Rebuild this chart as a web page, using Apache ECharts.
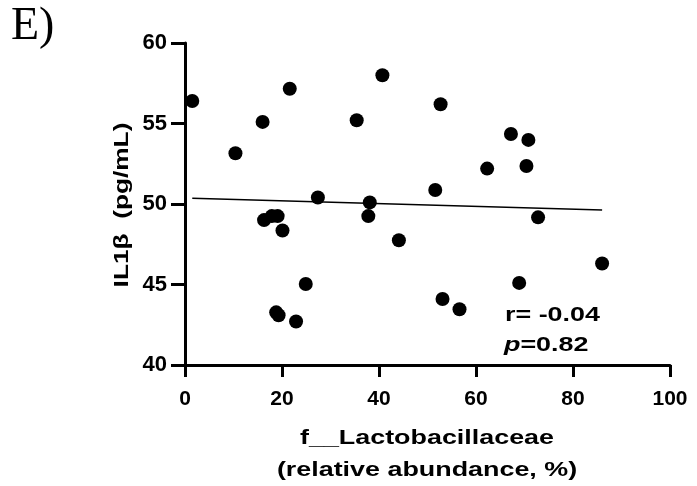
<!DOCTYPE html>
<html>
<head>
<meta charset="utf-8">
<script src="https://cdn.jsdelivr.net/npm/echarts@6/dist/echarts.min.js"></script>
<style>html,body{margin:0;padding:0;background:#fff}#c{width:697px;height:486px}</style>
</head>
<body>
<div id="c"></div>
<script>
const abundance = [1.5, 10.4, 16.0, 21.6, 35.4, 40.7, 27.4, 38.1, 37.8, 16.3, 17.9, 19.1, 20.1, 24.9, 18.8, 19.3, 22.9, 44.1, 51.6, 52.7, 67.2, 70.8, 62.3, 70.4, 72.8, 86.0, 68.9, 53.1, 56.6];
const il1b = [56.4, 53.15, 55.1, 57.16, 55.2, 58.0, 50.4, 50.1, 49.25, 49.0, 49.25, 49.25, 48.35, 45.03, 43.27, 43.09, 42.7, 47.75, 50.87, 56.2, 54.35, 53.98, 52.2, 52.36, 49.17, 46.3, 45.1, 44.1, 43.46];
const fitX = [1.5, 86.0];
const fitY = [50.35, 49.63];
const xTicks = [0, 20, 40, 60, 80, 100];
const yTicks = [40, 45, 50, 55, 60];

const chart = echarts.init(document.getElementById('c'));
const font = 'Liberation Sans, Arial, sans-serif';
const boldFont = 'bold 21px ' + font;
const sx = 1.28;
chart.setOption({
  animation: false,
  backgroundColor: '#fff',
  grid: {left: 185, right: 27, top: 43, bottom: 121},
  graphic: [
    {type: 'text', x: 11, y: 27, style: {text: 'E)', font: '46px Liberation Serif, Times New Roman, serif', fill: '#000', align: 'left', verticalAlign: 'middle'}},
    {type: 'text', x: 505, y: 315, scaleX: sx, style: {text: 'r= -0.04', font: boldFont, fill: '#000', align: 'left', verticalAlign: 'middle'}},
    {type: 'text', x: 504, y: 345, scaleX: sx, style: {text: '{i|p}=0.82', font: boldFont, fill: '#000', align: 'left', verticalAlign: 'middle',
      rich: {i: {fontFamily: font, fontStyle: 'italic', fontWeight: 'bold', fontSize: 21, fill: '#000', color: '#000'}}}},
    {type: 'text', x: 427, y: 438, scaleX: sx, style: {text: 'f__Lactobacillaceae', font: boldFont, fill: '#000', align: 'center', verticalAlign: 'middle'}},
    {type: 'text', x: 427, y: 470, scaleX: sx, style: {text: '(relative abundance, %)', font: boldFont, fill: '#000', align: 'center', verticalAlign: 'middle'}},
    {type: 'text', x: 122, y: 205, rotation: Math.PI / 2, scaleX: 1.25, style: {text: 'IL1β  (pg/mL)', font: boldFont, fill: '#000', align: 'center', verticalAlign: 'middle'}}
  ],
  xAxis: {
    type: 'value', min: xTicks[0], max: xTicks[xTicks.length - 1], interval: 20,
    axisLine: {lineStyle: {color: '#000', width: 3}},
    axisTick: {length: 12, lineStyle: {color: '#000', width: 3}},
    axisLabel: {margin: 24, fontFamily: font, fontWeight: 'bold', fontSize: 21, color: '#000'},
    splitLine: {show: false}
  },
  yAxis: {
    type: 'value', min: yTicks[0], max: yTicks[yTicks.length - 1], interval: 5,
    axisLine: {show: true, lineStyle: {color: '#000', width: 3}},
    axisTick: {show: true, length: 14, lineStyle: {color: '#000', width: 3}},
    axisLabel: {margin: 18, fontFamily: font, fontWeight: 'bold', fontSize: 22, color: '#000'},
    splitLine: {show: false}
  },
  series: [
    {
      type: 'scatter', symbol: 'circle', symbolSize: 14,
      itemStyle: {color: '#000', opacity: 1},
      data: abundance.map((x, i) => [x, il1b[i]]),
      z: 3
    },
    {
      type: 'line', showSymbol: false, symbol: 'none',
      lineStyle: {color: '#000', width: 1.5},
      data: fitX.map((x, i) => [x, fitY[i]]),
      z: 2
    }
  ]
});
</script>
</body>
</html>
